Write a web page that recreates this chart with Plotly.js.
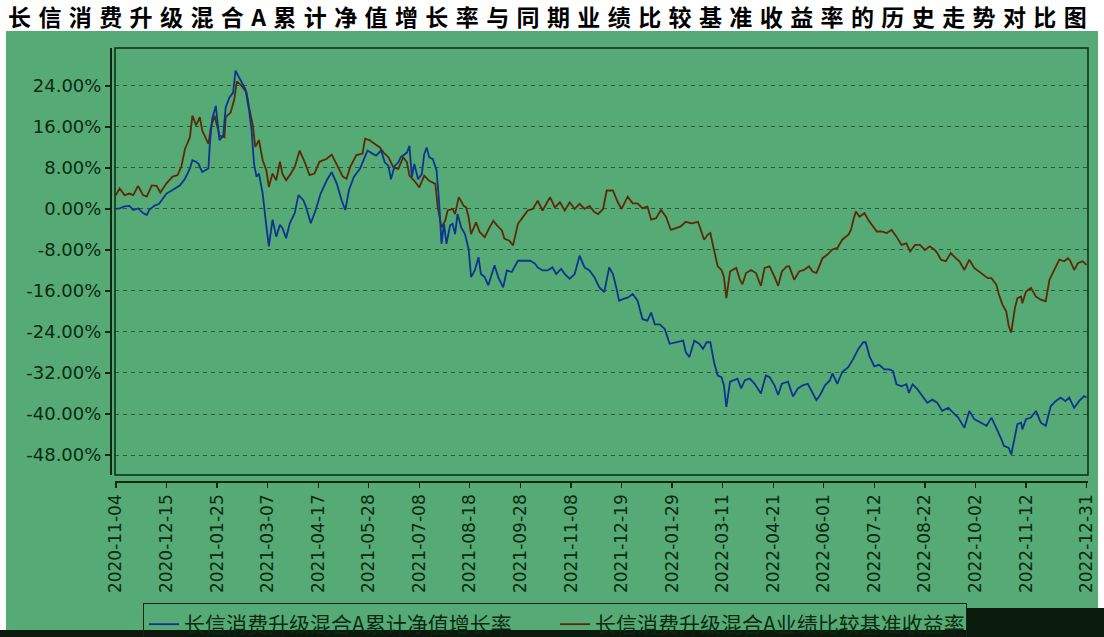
<!DOCTYPE html>
<html>
<head>
<meta charset="utf-8">
<script src="https://cdn.plot.ly/plotly-3.0.1.min.js"></script>
<style>
html,body{margin:0;padding:0;background:#ffffff;}
#chart{width:1104px;height:637px;}
.gtitle{letter-spacing:7.4px;}
</style>
</head>
<body>
<div id="chart"></div>
<script>
const chartTitle = '长信消费升级混合A累计净值增长率与同期业绩比较基准收益率的历史走势对比图';
const fundName = '长信消费升级混合A累计净值增长率';
const benchName = '长信消费升级混合A业绩比较基准收益率';

const xTickDates = ['2020-11-04','2020-12-15','2021-01-25','2021-03-07','2021-04-17','2021-05-28','2021-07-08','2021-08-18','2021-09-28','2021-11-08','2021-12-19','2022-01-29','2022-03-11','2022-04-21','2022-06-01','2022-07-12','2022-08-22','2022-10-02','2022-11-12','2022-12-31'];
const yTickValues = [-48,-40,-32,-24,-16,-8,0,8,16,24];
const yTickLabels = ['-48.00%','-40.00%','-32.00%','-24.00%','-16.00%','-8.00%','0.00%','8.00%','16.00%','24.00%'];

const fundDates = ['2020-11-04','2020-11-07','2020-11-11','2020-11-15','2020-11-18','2020-11-22','2020-11-26','2020-11-29','2020-12-01','2020-12-05','2020-12-09','2020-12-15','2020-12-20','2020-12-26','2020-12-30','2021-01-03','2021-01-05','2021-01-08','2021-01-10','2021-01-13','2021-01-18','2021-01-19','2021-01-21','2021-01-23','2021-01-24','2021-01-27','2021-01-30','2021-02-01','2021-02-04','2021-02-07','2021-02-09','2021-02-12','2021-02-17','2021-02-20','2021-02-22','2021-02-24','2021-02-26','2021-02-28','2021-03-03','2021-03-06','2021-03-08','2021-03-11','2021-03-14','2021-03-17','2021-03-19','2021-03-22','2021-03-25','2021-03-29','2021-04-01','2021-04-05','2021-04-07','2021-04-11','2021-04-15','2021-04-19','2021-04-24','2021-04-28','2021-05-02','2021-05-06','2021-05-09','2021-05-12','2021-05-16','2021-05-21','2021-05-25','2021-05-27','2021-05-31','2021-06-03','2021-06-07','2021-06-10','2021-06-13','2021-06-15','2021-06-18','2021-06-21','2021-06-23','2021-06-28','2021-06-30','2021-07-02','2021-07-04','2021-07-07','2021-07-10','2021-07-12','2021-07-14','2021-07-16','2021-07-19','2021-07-22','2021-07-24','2021-07-26','2021-07-28','2021-07-30','2021-08-02','2021-08-04','2021-08-06','2021-08-08','2021-08-11','2021-08-14','2021-08-17','2021-08-19','2021-08-22','2021-08-25','2021-08-27','2021-08-30','2021-09-02','2021-09-04','2021-09-07','2021-09-10','2021-09-14','2021-09-17','2021-09-21','2021-09-23','2021-09-26','2021-09-30','2021-10-06','2021-10-10','2021-10-12','2021-10-16','2021-10-20','2021-10-24','2021-10-27','2021-10-31','2021-11-03','2021-11-07','2021-11-11','2021-11-15','2021-11-19','2021-11-23','2021-11-27','2021-12-01','2021-12-05','2021-12-09','2021-12-12','2021-12-15','2021-12-17','2021-12-21','2021-12-24','2021-12-28','2022-01-01','2022-01-05','2022-01-09','2022-01-12','2022-01-15','2022-01-19','2022-01-23','2022-01-27','2022-02-01','2022-02-07','2022-02-09','2022-02-12','2022-02-16','2022-02-20','2022-02-23','2022-02-26','2022-03-01','2022-03-04','2022-03-07','2022-03-10','2022-03-12','2022-03-14','2022-03-17','2022-03-21','2022-03-23','2022-03-26','2022-03-29','2022-04-02','2022-04-06','2022-04-11','2022-04-15','2022-04-18','2022-04-22','2022-04-25','2022-04-28','2022-05-03','2022-05-07','2022-05-11','2022-05-15','2022-05-19','2022-05-22','2022-05-26','2022-05-29','2022-06-02','2022-06-06','2022-06-08','2022-06-12','2022-06-16','2022-06-21','2022-06-25','2022-06-29','2022-07-03','2022-07-05','2022-07-08','2022-07-12','2022-07-16','2022-07-20','2022-07-24','2022-07-27','2022-07-30','2022-08-03','2022-08-07','2022-08-09','2022-08-12','2022-08-16','2022-08-20','2022-08-24','2022-08-28','2022-09-01','2022-09-05','2022-09-10','2022-09-14','2022-09-18','2022-09-23','2022-09-27','2022-10-01','2022-10-07','2022-10-11','2022-10-15','2022-10-19','2022-10-23','2022-10-25','2022-10-29','2022-10-31','2022-11-03','2022-11-05','2022-11-08','2022-11-09','2022-11-12','2022-11-16','2022-11-20','2022-11-24','2022-11-28','2022-12-02','2022-12-06','2022-12-10','2022-12-14','2022-12-17','2022-12-21','2022-12-25','2022-12-29','2022-12-31'];
const fundValues = [0.0,0.1,0.5,0.6,-0.2,0.1,-0.8,-1.2,-0.2,0.6,1.0,3.0,3.7,4.6,5.9,7.9,9.5,9.2,8.8,7.2,7.9,12.1,17.5,19.2,20.1,13.4,14.3,19.8,21.7,22.7,27.0,25.6,23.4,19.2,15.3,8.8,6.3,6.9,3.0,-3.4,-7.3,-2.1,-5.4,-3.1,-3.7,-5.7,-2.8,-0.8,2.7,1.7,0.5,-2.8,-0.2,3.0,5.6,7.2,5.0,1.7,-0.2,3.7,6.3,7.9,10.1,11.4,10.8,10.4,11.4,9.1,8.4,5.8,8.4,9.1,10.1,11.0,12.3,6.2,8.8,5.8,6.8,10.7,12.0,10.1,9.7,7.5,1.6,-6.8,-2.9,-6.8,-3.2,-2.9,-4.9,-1.0,-3.6,-4.9,-7.8,-13.3,-12.0,-9.4,-12.7,-13.3,-14.9,-13.3,-11.0,-13.3,-15.3,-12.0,-12.3,-11.4,-10.1,-10.1,-10.1,-10.7,-11.4,-12.0,-12.0,-11.4,-12.7,-11.7,-12.7,-13.6,-12.7,-9.1,-11.4,-12.0,-13.3,-15.3,-16.2,-11.4,-12.7,-15.6,-17.9,-17.5,-17.3,-16.6,-17.9,-21.5,-21.8,-20.2,-22.5,-22.5,-23.4,-26.3,-26.0,-25.7,-27.9,-28.9,-25.7,-26.3,-27.3,-26.0,-26.0,-29.9,-32.5,-32.8,-34.4,-38.6,-33.7,-33.4,-33.1,-35.0,-33.4,-33.1,-34.1,-36.0,-32.5,-32.8,-34.4,-36.3,-34.1,-33.7,-36.6,-35.0,-34.4,-34.1,-35.4,-37.3,-36.3,-34.4,-33.4,-32.1,-34.1,-31.8,-30.8,-29.2,-27.3,-26.0,-26.0,-28.7,-30.7,-30.4,-31.3,-31.3,-31.6,-34.2,-34.6,-34.2,-35.9,-34.2,-35.2,-36.5,-37.8,-37.2,-37.8,-39.4,-38.8,-39.8,-40.7,-42.7,-39.4,-41.0,-41.7,-42.3,-40.7,-42.7,-44.9,-46.2,-46.6,-47.9,-44.0,-42.0,-41.7,-43.0,-41.0,-40.7,-39.4,-41.7,-42.3,-38.5,-37.5,-36.8,-37.5,-36.8,-38.8,-37.5,-36.5,-36.8];

const benchDates = ['2020-11-04','2020-11-07','2020-11-11','2020-11-15','2020-11-18','2020-11-22','2020-11-26','2020-11-29','2020-12-03','2020-12-07','2020-12-10','2020-12-15','2020-12-20','2020-12-24','2020-12-27','2020-12-30','2021-01-03','2021-01-05','2021-01-08','2021-01-11','2021-01-13','2021-01-18','2021-01-20','2021-01-23','2021-01-27','2021-01-31','2021-02-01','2021-02-05','2021-02-08','2021-02-10','2021-02-14','2021-02-18','2021-02-20','2021-02-23','2021-02-25','2021-02-28','2021-03-03','2021-03-06','2021-03-08','2021-03-11','2021-03-14','2021-03-17','2021-03-19','2021-03-22','2021-03-25','2021-03-29','2021-04-02','2021-04-06','2021-04-10','2021-04-14','2021-04-18','2021-04-24','2021-04-28','2021-05-02','2021-05-07','2021-05-10','2021-05-13','2021-05-18','2021-05-23','2021-05-25','2021-05-29','2021-05-31','2021-06-02','2021-06-06','2021-06-09','2021-06-13','2021-06-17','2021-06-21','2021-06-25','2021-06-28','2021-06-30','2021-07-04','2021-07-08','2021-07-12','2021-07-16','2021-07-21','2021-07-23','2021-07-26','2021-07-29','2021-07-31','2021-08-04','2021-08-06','2021-08-09','2021-08-13','2021-08-15','2021-08-17','2021-08-19','2021-08-23','2021-08-26','2021-08-30','2021-09-03','2021-09-06','2021-09-09','2021-09-13','2021-09-15','2021-09-19','2021-09-22','2021-09-26','2021-09-30','2021-10-04','2021-10-08','2021-10-12','2021-10-16','2021-10-22','2021-10-26','2021-10-30','2021-11-03','2021-11-07','2021-11-11','2021-11-15','2021-11-19','2021-11-23','2021-11-27','2021-11-30','2021-12-04','2021-12-07','2021-12-12','2021-12-16','2021-12-19','2021-12-21','2021-12-24','2021-12-28','2022-01-01','2022-01-05','2022-01-09','2022-01-12','2022-01-16','2022-01-20','2022-01-24','2022-01-28','2022-02-01','2022-02-05','2022-02-09','2022-02-14','2022-02-19','2022-02-22','2022-02-24','2022-02-27','2022-03-01','2022-03-04','2022-03-07','2022-03-10','2022-03-12','2022-03-14','2022-03-17','2022-03-19','2022-03-22','2022-03-25','2022-03-27','2022-03-30','2022-04-03','2022-04-07','2022-04-11','2022-04-14','2022-04-18','2022-04-22','2022-04-25','2022-04-28','2022-05-02','2022-05-04','2022-05-08','2022-05-12','2022-05-16','2022-05-20','2022-05-23','2022-05-26','2022-05-31','2022-06-04','2022-06-08','2022-06-12','2022-06-16','2022-06-21','2022-06-23','2022-06-25','2022-06-27','2022-06-30','2022-07-04','2022-07-07','2022-07-11','2022-07-14','2022-07-18','2022-07-22','2022-07-26','2022-07-30','2022-08-03','2022-08-07','2022-08-10','2022-08-14','2022-08-18','2022-08-22','2022-08-26','2022-08-30','2022-09-01','2022-09-04','2022-09-08','2022-09-12','2022-09-16','2022-09-19','2022-09-23','2022-09-27','2022-10-01','2022-10-07','2022-10-12','2022-10-15','2022-10-19','2022-10-21','2022-10-24','2022-10-27','2022-10-29','2022-10-31','2022-11-03','2022-11-05','2022-11-08','2022-11-09','2022-11-12','2022-11-16','2022-11-20','2022-11-24','2022-11-28','2022-12-01','2022-12-05','2022-12-09','2022-12-13','2022-12-16','2022-12-18','2022-12-21','2022-12-24','2022-12-28','2022-12-31'];
const benchValues = [2.7,4.0,2.7,3.0,2.7,4.5,2.7,2.4,4.6,4.5,3.2,5.0,6.3,6.6,8.2,11.7,14.0,18.2,16.3,17.9,15.3,12.7,15.9,18.2,14.3,14.0,17.9,18.8,21.4,24.9,24.0,22.7,19.8,16.3,12.1,13.4,9.5,7.5,4.3,6.9,5.6,9.2,6.9,5.6,6.6,8.2,11.4,9.2,6.6,6.9,9.2,9.8,10.6,8.8,6.3,5.9,8.2,10.5,10.8,13.7,13.4,13.0,12.7,12.0,11.0,10.1,8.1,7.8,10.1,9.1,6.5,5.5,4.2,6.5,5.5,4.9,0.3,-3.6,-2.3,-0.3,0.0,-1.0,2.3,0.6,0.3,-1.6,-4.9,-2.6,-4.5,-5.5,-3.6,-2.3,-3.2,-4.2,-5.8,-6.2,-7.1,-2.9,-1.6,-0.3,0.0,1.6,-0.3,2.3,0.3,1.3,-0.3,1.3,0.0,1.0,0.0,0.6,-0.6,-1.0,0.0,3.6,3.6,1.3,0.0,1.0,2.4,1.1,1.1,0.1,0.5,-2.1,-1.8,-0.2,-1.5,-4.1,-3.8,-3.4,-2.5,-2.8,-2.5,-4.4,-6.0,-5.0,-4.7,-8.0,-11.2,-11.9,-13.2,-17.4,-12.2,-11.9,-11.5,-13.8,-14.7,-12.5,-11.9,-12.5,-15.0,-11.5,-11.2,-13.2,-15.0,-12.2,-11.2,-11.2,-13.8,-12.2,-11.9,-11.2,-12.2,-12.5,-9.6,-8.9,-7.9,-7.6,-6.0,-5.0,-4.1,-2.1,-0.5,-1.5,-0.8,-2.1,-3.4,-4.4,-4.4,-4.7,-4.1,-5.4,-7.0,-6.7,-8.3,-7.0,-7.0,-8.0,-7.3,-8.0,-8.6,-9.9,-10.2,-8.6,-9.6,-10.2,-11.9,-9.9,-11.5,-12.5,-13.5,-13.5,-14.8,-16.7,-18.7,-20.0,-22.9,-24.1,-19.3,-17.4,-17.1,-18.4,-16.1,-15.4,-17.1,-17.7,-18.0,-13.8,-11.9,-9.9,-10.2,-9.6,-10.2,-11.9,-10.6,-10.2,-10.9];

// layout geometry helpers (pixels -> paper)
const W = 1104, H = 637, ML = 110, MR = 16, MT = 48, MB = 156;
const PW = W - ML - MR, PH = H - MT - MB;
const px = x => (x - ML) / PW;
const py = y => (H - MB - y) / PH;

const textColor = '#0c2a12';
const tickFont = {family: 'DejaVu Sans, Arial, sans-serif', size: 18, color: textColor};

const traces = [
  {
    x: benchDates, y: benchValues, type: 'scatter', mode: 'lines', name: benchName,
    line: {color: '#5c2a06', width: 1.8}, legendrank: 2
  },
  {
    x: fundDates, y: fundValues, type: 'scatter', mode: 'lines', name: fundName,
    line: {color: '#0d3590', width: 1.8}, legendrank: 1
  }
];

const layout = {
  width: W, height: H,
  paper_bgcolor: '#ffffff',
  plot_bgcolor: 'rgba(0,0,0,0)',
  margin: {l: ML, r: MR, t: MT, b: MB, pad: 0, autoexpand: false},
  title: {
    text: '<b>' + chartTitle + '</b>',
    xref: 'container', x: 8 / W, xanchor: 'left',
    yref: 'container', y: 1 - 18 / H, yanchor: 'middle',
    font: {family: 'Noto Sans CJK SC, sans-serif', size: 23, color: '#000000'}
  },
  showlegend: true,
  legend: {
    orientation: 'h', x: px(143), xanchor: 'left', y: py(603), yanchor: 'top',
    bgcolor: 'rgba(0,0,0,0)', bordercolor: '#0c2a12', borderwidth: 1,
    font: {family: 'Noto Sans CJK SC, sans-serif', size: 21, color: textColor},
    entrywidth: 366, entrywidthmode: 'pixels', traceorder: 'normal',
    tracegroupgap: 0, itemwidth: 30
  },
  xaxis: {
    type: 'date',
    domain: [px(115), 1],
    range: ['2020-11-03 06:00', '2023-01-01 06:00'],
    anchor: 'free', position: 0,
    showline: true, linecolor: '#0c2a12', linewidth: 1.5,
    showgrid: false, zeroline: false,
    tickmode: 'array', tickvals: xTickDates, ticktext: xTickDates,
    tickangle: -90, ticks: 'outside', ticklen: 5, tickcolor: '#0c2a12', tickwidth: 1.2,
    tickfont: {family: 'DejaVu Sans, Arial, sans-serif', size: 17, color: textColor}
  },
  yaxis: {
    domain: [py(475), 1],
    range: [-51.9, 31.4],
    anchor: 'free', position: 0,
    showline: true, linecolor: '#0c2a12', linewidth: 1.5,
    showgrid: true, gridcolor: '#23603a', gridwidth: 1, griddash: '4px,4px',
    zeroline: false,
    tickmode: 'array', tickvals: yTickValues, ticktext: yTickLabels,
    ticks: 'outside', ticklen: 5, tickcolor: '#0c2a12', tickwidth: 1.2,
    tickfont: tickFont
  },
  shapes: [
    {type: 'rect', xref: 'paper', yref: 'paper', x0: px(6), x1: px(1098), y0: py(630), y1: py(31),
     fillcolor: '#55aa76', line: {width: 0}, layer: 'below'},
    {type: 'rect', xref: 'paper', yref: 'paper', x0: px(115), x1: 1, y0: py(475), y1: 1,
     fillcolor: 'rgba(0,0,0,0)', line: {color: '#0c2a12', width: 1.5}, layer: 'above'},
    {type: 'rect', xref: 'paper', yref: 'paper', x0: px(0), x1: px(1104), y0: py(637), y1: py(630),
     fillcolor: '#0a1a0c', line: {width: 0}, layer: 'above'},
    {type: 'rect', xref: 'paper', yref: 'paper', x0: px(967), x1: px(1104), y0: py(637), y1: py(608),
     fillcolor: '#0a1a0c', line: {width: 0}, layer: 'above'}
  ]
};

Plotly.newPlot('chart', traces, layout, {displayModeBar: false, staticPlot: true});
</script>
</body>
</html>
